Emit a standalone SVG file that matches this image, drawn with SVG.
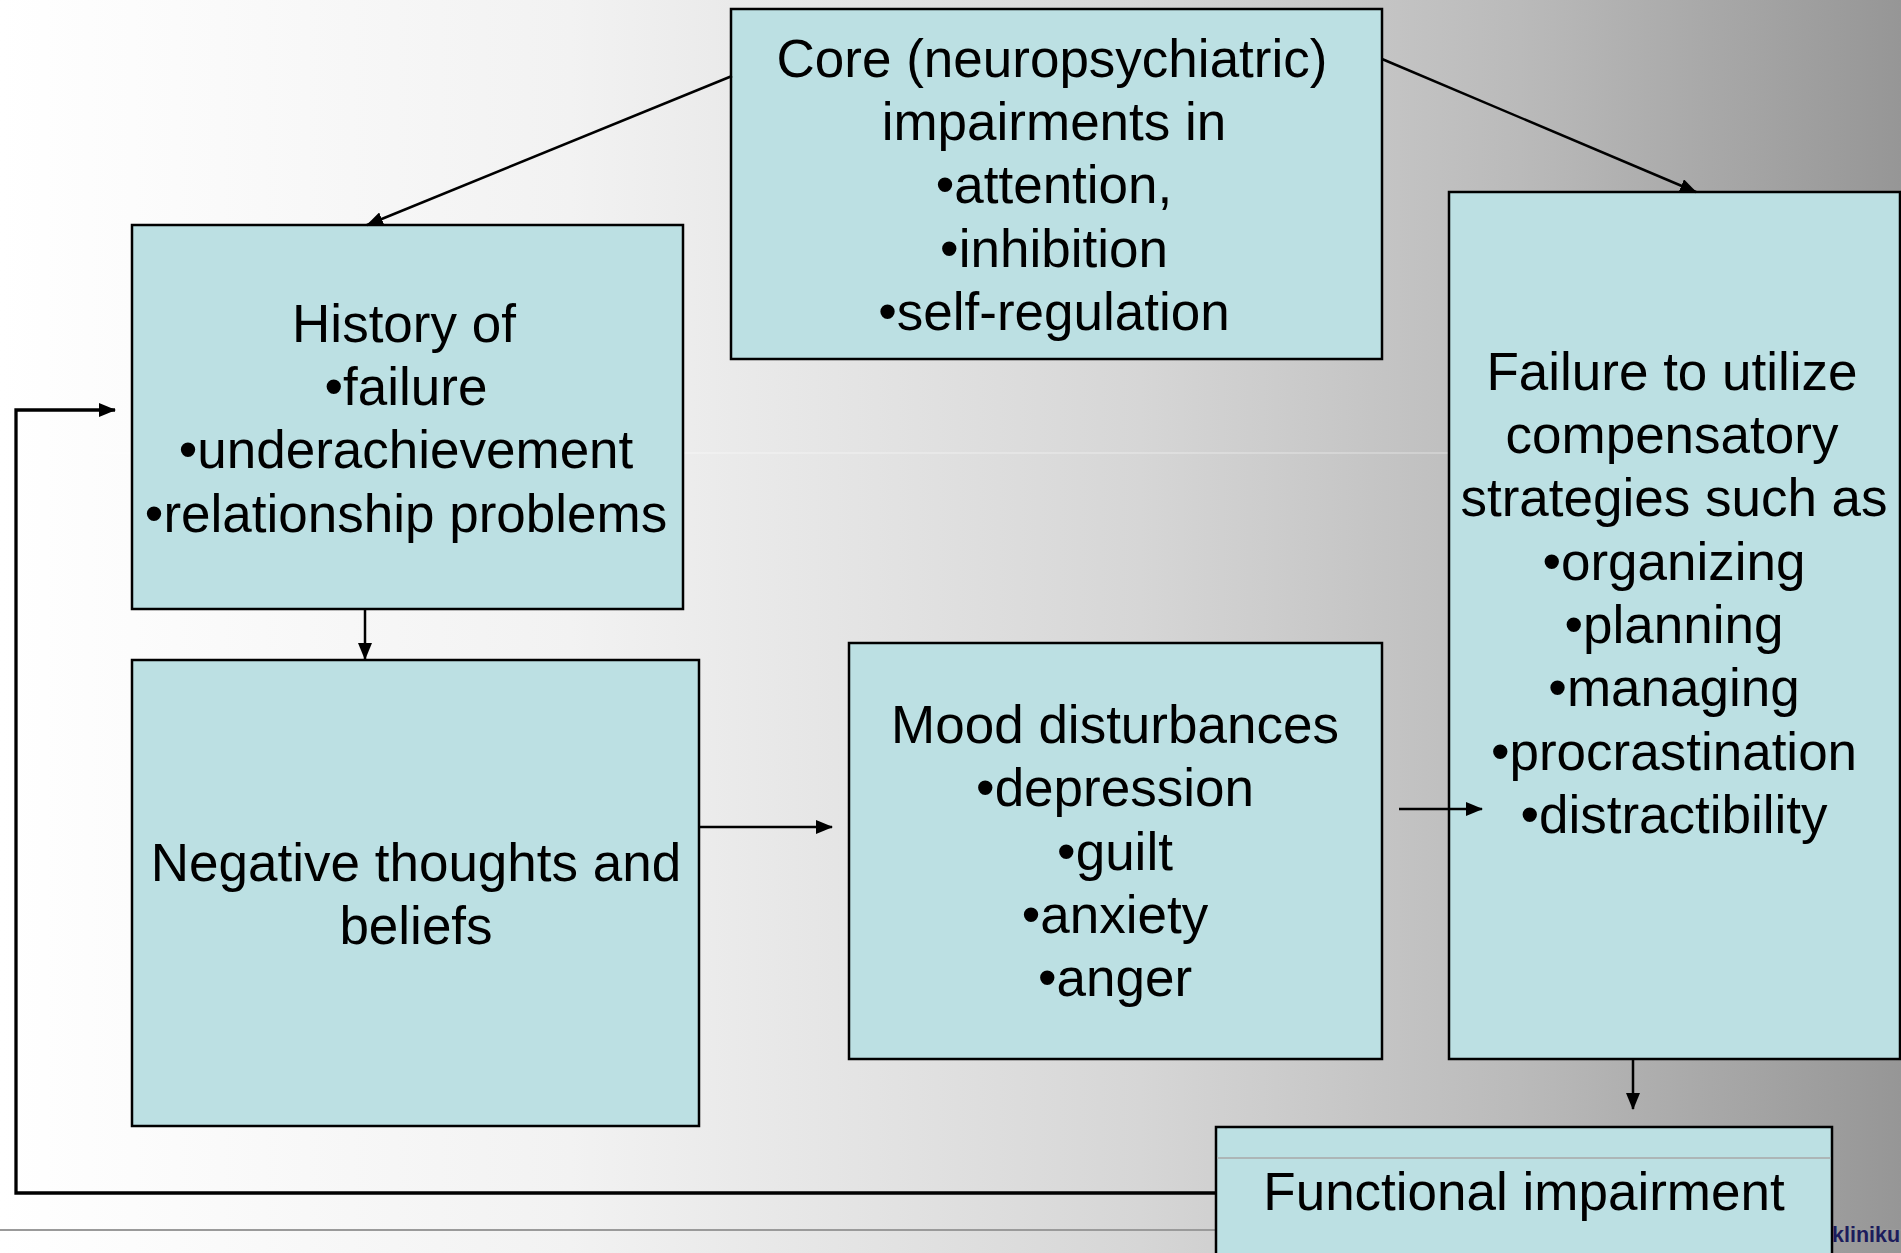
<svg xmlns="http://www.w3.org/2000/svg" width="1901" height="1253" viewBox="0 0 1901 1253">
<defs>
<linearGradient id="bg" x1="0" y1="0" x2="1" y2="0">
<stop offset="0" stop-color="#ffffff"/>
<stop offset="0.3" stop-color="#f2f2f2"/>
<stop offset="0.6" stop-color="#d6d6d6"/>
<stop offset="0.8" stop-color="#bababa"/>
<stop offset="1" stop-color="#969696"/>
</linearGradient>
<marker id="ah" markerWidth="17" markerHeight="14" refX="16" refY="7" orient="auto" markerUnits="userSpaceOnUse">
<path d="M0,0 L17,7 L0,14 Z" fill="#000"/>
</marker>
<style>
.box{fill:#bce0e3;stroke:#000;stroke-width:2.5}
.t{font-family:"Liberation Sans",Arial,sans-serif;font-size:53px;fill:#000;text-anchor:middle}
.c{fill:none;stroke:#000;stroke-width:2.5}
</style>
</defs>
<rect x="0" y="0" width="1901" height="1253" fill="url(#bg)"/>
<line x1="0" y1="1230" x2="1901" y2="1230" stroke="#9a9a9a" stroke-width="2"/>
<line x1="0" y1="453" x2="1901" y2="453" stroke="#ffffff" stroke-opacity="0.5" stroke-width="1"/>

<g id="core">
<rect class="box" x="731" y="9" width="651" height="350"/>
<text class="t" x="1052" y="77">Core (neuropsychiatric)</text>
<text class="t" x="1054" y="140">impairments in</text>
<text class="t" x="1054" y="203">•attention,</text>
<text class="t" x="1054" y="267">•inhibition</text>
<text class="t" x="1054" y="330">•self-regulation</text>
</g>

<g id="history">
<rect class="box" x="132" y="225" width="551" height="384"/>
<text class="t" x="404" y="342">History of</text>
<text class="t" x="406" y="405">•failure</text>
<text class="t" x="406" y="468">•underachievement</text>
<text class="t" x="406" y="532">•relationship problems</text>
</g>

<g id="negative">
<rect class="box" x="132" y="660" width="567" height="466"/>
<text class="t" x="416" y="881">Negative thoughts and</text>
<text class="t" x="416" y="944">beliefs</text>
</g>

<g id="mood">
<rect class="box" x="849" y="643" width="533" height="416"/>
<text class="t" x="1115" y="743">Mood disturbances</text>
<text class="t" x="1115" y="806">•depression</text>
<text class="t" x="1115" y="870">•guilt</text>
<text class="t" x="1115" y="933">•anxiety</text>
<text class="t" x="1115" y="996">•anger</text>
</g>

<g id="failure">
<rect class="box" x="1449" y="192" width="451" height="867"/>
<text class="t" x="1672" y="390">Failure to utilize</text>
<text class="t" x="1672" y="453">compensatory</text>
<text class="t" x="1674" y="516">strategies such as</text>
<text class="t" x="1674" y="580">•organizing</text>
<text class="t" x="1674" y="643">•planning</text>
<text class="t" x="1674" y="706">•managing</text>
<text class="t" x="1674" y="770">•procrastination</text>
<text class="t" x="1674" y="833">•distractibility</text>
</g>

<g id="functional">
<rect class="box" x="1216" y="1127" width="616" height="140"/>
<line x1="1217" y1="1158" x2="1831" y2="1158" stroke="#a9a9a9" stroke-width="1.5"/>
<text class="t" x="1524" y="1210">Functional impairment</text>
</g>

<g id="connectors">
<line class="c" x1="732" y1="76" x2="367" y2="225" marker-end="url(#ah)"/>
<line class="c" x1="1382" y1="59" x2="1696" y2="192" marker-end="url(#ah)"/>
<line class="c" x1="365" y1="609" x2="365" y2="659" marker-end="url(#ah)"/>
<line class="c" x1="699" y1="827" x2="832" y2="827" marker-end="url(#ah)"/>
<line class="c" x1="1399" y1="809" x2="1482" y2="809" marker-end="url(#ah)"/>
<line class="c" x1="1633" y1="1059" x2="1633" y2="1109" marker-end="url(#ah)"/>
<polyline class="c" style="stroke-width:3.3" points="1216,1193 16,1193 16,410 115,410" marker-end="url(#ah)"/>
</g>

<text x="1832" y="1242" style="font-family:'Liberation Sans',Arial,sans-serif;font-size:21.5px;font-weight:bold;fill:#1c1c5c">kliniku</text>
</svg>
